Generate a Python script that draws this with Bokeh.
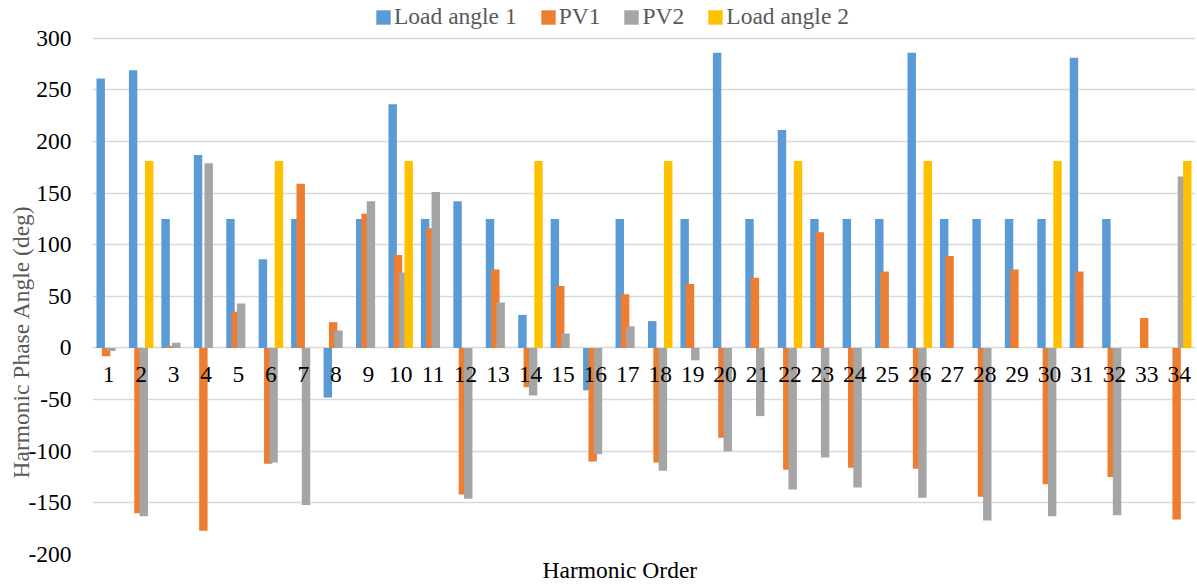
from bokeh.plotting import figure
from bokeh.models import (FactorRange, Range1d, Legend, LegendItem, Title,
                          SingleIntervalTicker, ColumnDataSource, PrintfTickFormatter)
from bokeh.core.properties import value
from bokeh.transform import dodge
from bokeh.embed import file_html
from bokeh.resources import INLINE

orders = [str(i) for i in range(1, 35)]

load_angle_1 = [261, 269, 125, 187, 125, 86, 125, -48, 125, 236, 125, 142, 125, 32, 125, -41, 125,
                26, 125, 286, 125, 211, 125, 125, 125, 286, 125, 125, 125, 125, 281, 125, 0, 0]
pv1 = [-8, -160, 2, -177, 35, -112, 159, 25, 130, 90, 116, -142, 76, -38, 60, -110, 52,
       -111, 62, -87, 68, -118, 112, -116, 74, -117, 89, -144, 76, -132, 74, -125, 29, -166]
pv2 = [-3, -163, 5, 179, 43, -111, -152, 17, 142, 73, 151, -146, 44, -46, 14, -103, 21,
       -119, -12, -100, -66, -137, -106, -135, 0, -145, 0, -167, 0, -163, 0, -162, 0, 166]
load_angle_2 = [0, 181, 0, 0, 0, 181, 0, 0, 0, 181, 0, 0, 0, 181, 0, 0, 0,
                181, 0, 0, 0, 181, 0, 0, 0, 181, 0, 0, 0, 181, 0, 0, 0, 181]

series_names = ["Load angle 1", "PV1", "PV2", "Load angle 2"]
series_cols = ["la1", "pv1", "pv2", "la2"]
colors = ["#5B9BD5", "#ED7D31", "#A5A5A5", "#FFC000"]
offsets = [-0.247, -0.082, 0.082, 0.247]

FONT = "Liberation Serif"
FS = "23.5px"

source = ColumnDataSource(dict(x=orders, la1=load_angle_1, pv1=pv1, pv2=pv2, la2=load_angle_2,
                               base=[0] * len(orders)))

# upper part of the frame (above 300) holds the legend
p = figure(x_range=FactorRange(*orders), y_range=Range1d(-200, 336.5),
           width=1197, height=588, output_backend="svg", toolbar_location=None,
           min_border_left=92, min_border_right=2, min_border_top=0, min_border_bottom=34)
p.x_range.range_padding = 0

renderers = []
for col, c, off in zip(series_cols, colors, offsets):
    r = p.vbar(x=dodge("x", off, range=p.x_range), top=col, bottom=0, width=0.26,
               source=source, fill_color=c, line_color=None)
    renderers.append(r)

# category labels next to the zero line
p.text(x="x", y="base", text="x", source=source, y_offset=19,
       text_align="center", text_baseline="top",
       text_font=value(FONT), text_font_size=FS, text_color="#000000")

p.outline_line_color = None
p.xgrid.visible = False
p.ygrid.grid_line_color = "#D9D9D9"
p.ygrid.grid_line_width = 1.5

p.yaxis.ticker = SingleIntervalTicker(interval=50, num_minor_ticks=0)
p.yaxis.formatter = PrintfTickFormatter(format="%d")
p.yaxis.axis_line_color = None
p.yaxis.major_tick_line_color = None
p.yaxis.minor_tick_line_color = None
p.yaxis.major_tick_out = 0
p.yaxis.major_tick_in = 0
p.yaxis.minor_tick_out = 0
p.yaxis.major_label_standoff = 21
p.yaxis.major_label_text_font = FONT
p.yaxis.major_label_text_font_size = FS
p.yaxis.major_label_text_color = "#000000"

p.xaxis.visible = False

p.add_layout(Title(text="Harmonic Phase Angle (deg)", align="left", offset=76,
                   text_font=FONT, text_font_size=FS, text_font_style="normal",
                   text_color="#595959", standoff=-16), "left")

p.add_layout(Title(text="Harmonic Order", align="left", offset=450, text_font=FONT,
                   text_font_size=FS, text_font_style="normal",
                   text_color="#000000", standoff=0), "below")

legend = Legend(items=[LegendItem(label=n, renderers=[r]) for n, r in zip(series_names, renderers)],
                orientation="horizontal", location=(282, 524),
                label_text_font=FONT, label_text_font_size=FS, label_text_color="#595959",
                glyph_width=18, glyph_height=18, label_standoff=2, spacing=22,
                padding=0, margin=0, border_line_color=None, background_fill_alpha=0)
p.add_layout(legend, "center")

open("out.html", "w").write(file_html(p, INLINE))
